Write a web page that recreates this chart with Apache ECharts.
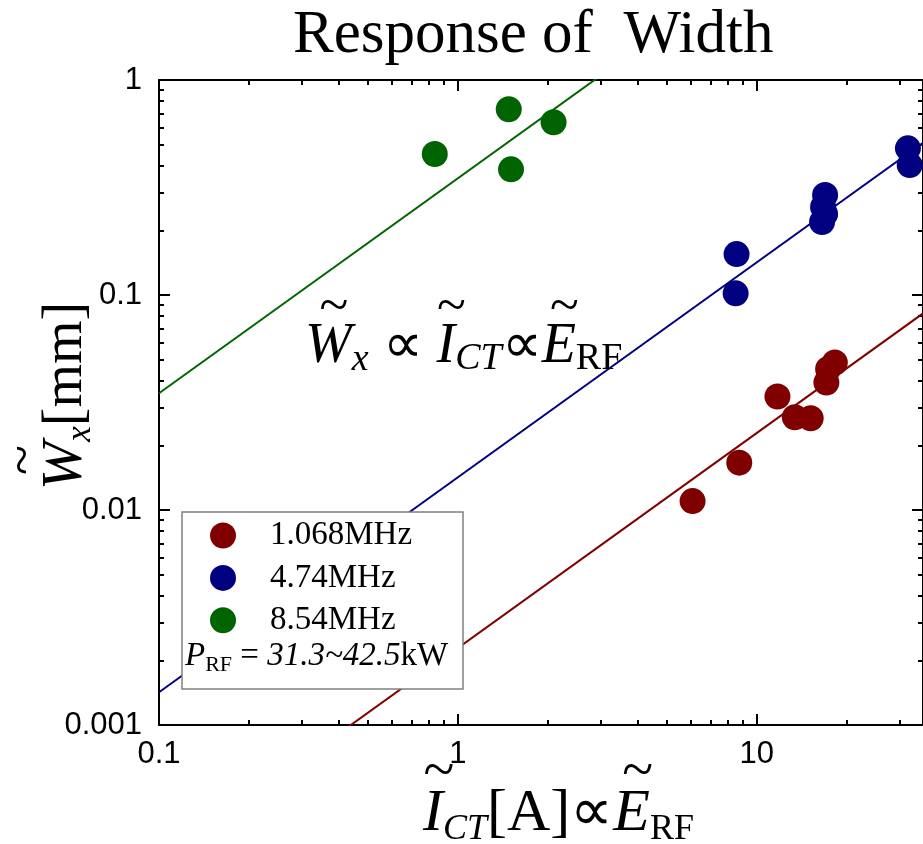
<!DOCTYPE html>
<html><head><meta charset="utf-8">
<script src="https://cdn.jsdelivr.net/npm/echarts@6/dist/echarts.min.js"></script>
<style>html,body{margin:0;padding:0;background:#fff}#c{width:923px;height:844px}</style>
</head><body><div id="c"></div>
<script>
// ---------- data ----------
const seriesNames = ['1.068MHz', '4.74MHz', '8.54MHz'];
const seriesColors = ['#800000', '#000080', '#006400'];

const redX = [6.10, 8.74, 11.73, 13.41, 15.15, 17.10, 17.33, 18.25];
const redY = [0.0110, 0.0166, 0.0337, 0.0270, 0.0267, 0.0392, 0.0453, 0.0485];
const blueX = [8.56, 8.50, 16.93, 16.67, 16.93, 16.54, 32.05, 32.5];
const blueY = [0.155, 0.1018, 0.292, 0.2566, 0.238, 0.2185, 0.481, 0.402];
const greenX = [0.837, 1.48, 1.506, 2.09];
const greenY = [0.453, 0.731, 0.384, 0.636];

// fitted power-law lines (end points)
const fitX = [0.1, 36];
const redFitY = [0.000228, 0.0821];
const blueFitY = [0.00142, 0.511];
const greenFitY = [0.0349, 12.56];

const xMajorTicks = [0.1, 1, 10];
const xTickLabels = ['0.1', '1', '10'];
const xMinorTicks = [0.2, 0.3, 0.4, 0.5, 0.6, 0.7, 0.8, 0.9, 2, 3, 4, 5, 6, 7, 8, 9, 20, 30];
const yMajorTicks = [0.001, 0.01, 0.1, 1];
const yTickLabels = ['0.001', '0.01', '0.1', '1'];
const yMinorTicks = [0.002, 0.003, 0.004, 0.005, 0.006, 0.007, 0.008, 0.009,
  0.02, 0.03, 0.04, 0.05, 0.06, 0.07, 0.08, 0.09,
  0.2, 0.3, 0.4, 0.5, 0.6, 0.7, 0.8, 0.9];
const xRange = [0.1, 36];
const yRange = [0.001, 1];

// ---------- helpers ----------
const SERIF = '"Liberation Serif", "Times New Roman", serif';
const SANS = '"Liberation Sans", Arial, sans-serif';
const zip = (xs, ys) => xs.map((x, i) => [x, ys[i]]);
const mctx = document.createElement('canvas').getContext('2d');
function fontStr(size, it) { return (it ? 'italic ' : '') + size + 'px ' + SERIF; }
function tw(t, size, it) { mctx.font = fontStr(size, it); return mctx.measureText(t).width; }
function formula(pieces, x0, base, z) {
  let x = x0; const els = [];
  pieces.forEach(p => {
    const w = tw(p.t, p.s, p.it);
    els.push({ type: 'text', z: z, x: x, y: base + (p.dy || 0) - 0.34 * p.s,
      style: { text: p.t, font: fontStr(p.s, p.it), fill: '#000', textAlign: 'left', textVerticalAlign: 'middle' } });
    if (p.tilde) {
      const ts = p.s * 0.95;
      els.push({ type: 'text', z: z, x: x + w / 2 + (p.it ? 0.1 * p.s : 0), y: base - 0.97 * p.s - 0.06 * ts,
        style: { text: '~', font: ts + 'px ' + SERIF, fill: '#000', textAlign: 'center', textVerticalAlign: 'middle' } });
    }
    x += w;
  });
  return els;
}
function labelFor(ticks, labels) {
  return v => {
    for (let i = 0; i < ticks.length; i++) if (Math.abs(Math.log10(v) - Math.log10(ticks[i])) < 1e-6) return labels[i];
    return '';
  };
}
const axLine = { color: '#000', width: 2 };
function xAx(pos, major) {
  return {
    type: 'log', logBase: 10, min: xRange[0], max: xRange[1], position: pos, gridIndex: 0,
    axisLine: { show: major, lineStyle: axLine },
    axisTick: { show: true, inside: true, length: major ? 11 : 5, lineStyle: axLine,
      customValues: major ? xMajorTicks : xMinorTicks },
    axisLabel: { show: major && pos === 'bottom', customValues: xMajorTicks, formatter: labelFor(xMajorTicks, xTickLabels),
      fontFamily: SANS, fontSize: 31, color: '#000', margin: 14 },
    splitLine: { show: false }, minorTick: { show: false }
  };
}
function yAx(pos, major) {
  return {
    type: 'log', logBase: 10, min: yRange[0], max: yRange[1], position: pos, gridIndex: 0,
    axisLine: { show: major, lineStyle: axLine },
    axisTick: { show: true, inside: true, length: major ? 11 : 5, lineStyle: axLine,
      customValues: major ? yMajorTicks : yMinorTicks },
    axisLabel: { show: major && pos === 'left', customValues: yMajorTicks, formatter: labelFor(yMajorTicks, yTickLabels),
      fontFamily: SANS, fontSize: 31, color: '#000', margin: 17 },
    splitLine: { show: false }, minorTick: { show: false }
  };
}

// ---------- text pieces ----------
const yTitle = formula([
  { t: 'W', s: 58, it: true, tilde: true },
  { t: 'x', s: 35, it: true, dy: 8 },
  { t: '[mm]', s: 56 }
], 0, 0, 30);
const xTitle = formula([
  { t: 'I', s: 60, it: true, tilde: true },
  { t: 'CT', s: 36, it: true, dy: 7 },
  { t: '[A]\u221D', s: 60 },
  { t: 'E', s: 60, it: true, tilde: true },
  { t: 'RF', s: 36, dy: 7 }
], 423, 835, 30);
const annot = formula([
  { t: 'W', s: 56, it: true, tilde: true },
  { t: 'x', s: 38, it: true, dy: 7 },
  { t: ' \u221D ', s: 56 },
  { t: 'I', s: 56, it: true, tilde: true },
  { t: 'CT', s: 38, it: true, dy: 6 },
  { t: '\u221D', s: 56 },
  { t: 'E', s: 56, it: true, tilde: true },
  { t: 'RF', s: 38, dy: 6 }
], 305, 366, 30);
const pNote = formula([
  { t: 'P', s: 33, it: true },
  { t: 'RF', s: 22, dy: 5 },
  { t: ' = ', s: 33 },
  { t: '31.3~42.5', s: 33, it: true },
  { t: 'kW', s: 33 }
], 185, 668, 40);

const chart = echarts.init(document.getElementById('c'), null, { renderer: 'canvas' });
chart.setOption({
  animation: false,
  backgroundColor: '#fff',
  title: { text: 'Response of  Width', left: 293, top: 5, padding: 0,
    textStyle: { fontFamily: SERIF, fontSize: 61, fontWeight: 'normal', color: '#000' } },
  grid: { left: 159, right: -1, top: 80, bottom: 119, containLabel: false },
  xAxis: [xAx('bottom', true), xAx('bottom', false), xAx('top', true), xAx('top', false)],
  yAxis: [yAx('left', true), yAx('left', false), yAx('right', true), yAx('right', false)],
  legend: {
    data: seriesNames, orient: 'vertical', left: 210, top: 519, padding: 0,
    itemWidth: 26, itemHeight: 26, itemGap: 9.4, icon: 'circle', z: 40,
    textStyle: { fontFamily: SERIF, fontSize: 33, color: '#000', padding: [0, 0, 0, 29] },
    selectedMode: false
  },
  series: [
    { type: 'line', name: 'fit-red', data: zip(fitX, redFitY), symbol: 'none', clip: true, silent: true,
      lineStyle: { color: seriesColors[0], width: 2 }, z: 2 },
    { type: 'line', name: 'fit-blue', data: zip(fitX, blueFitY), symbol: 'none', clip: true, silent: true,
      lineStyle: { color: seriesColors[1], width: 2 }, z: 2 },
    { type: 'line', name: 'fit-green', data: zip(fitX, greenFitY), symbol: 'none', clip: true, silent: true,
      lineStyle: { color: seriesColors[2], width: 2 }, z: 2 },
    { type: 'scatter', name: seriesNames[0], data: zip(redX, redY), symbol: 'circle', symbolSize: 26,
      itemStyle: { color: seriesColors[0], opacity: 1 }, z: 3 },
    { type: 'scatter', name: seriesNames[1], data: zip(blueX, blueY), symbol: 'circle', symbolSize: 26,
      itemStyle: { color: seriesColors[1], opacity: 1 }, z: 3 },
    { type: 'scatter', name: seriesNames[2], data: zip(greenX, greenY), symbol: 'circle', symbolSize: 26,
      itemStyle: { color: seriesColors[2], opacity: 1 }, z: 3 }
  ],
  graphic: [
    { type: 'rect', z: 20, shape: { x: 182, y: 512, width: 281, height: 177 },
      style: { fill: '#fff', stroke: '#808080', lineWidth: 1.5 } },
    ...pNote,
    ...annot,
    ...xTitle,
    { type: 'group', x: 85, y: 490, rotation: Math.PI / 2, children: yTitle }
  ]
});
</script></body></html>
